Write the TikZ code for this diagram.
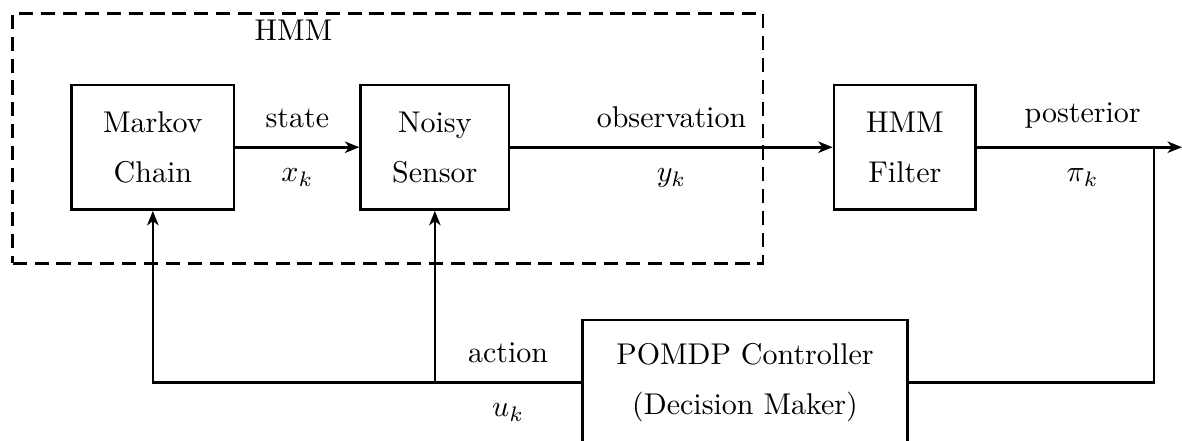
\documentclass[tikz,border=0pt]{standalone}
\usetikzlibrary{arrows.meta,calc}
\begin{document}
\begin{tikzpicture}[x=0.33333pt,y=-0.33333pt,
  every node/.style={font=\fontsize{10}{12}\selectfont},
  blk/.style={draw, line width=0.9pt, minimum height=41.55pt, inner xsep=0pt, inner ysep=0pt, align=center},
  conn/.style={line width=0.9pt},
  arr/.style={conn, -{Stealth[length=4.8pt,width=3.8pt,inset=1.4pt]}},
  labup/.style={inner sep=0pt, anchor=south, yshift=6.2pt},
  labdn/.style={inner sep=0pt, anchor=north, yshift=-7pt},
  hmmbox/.style={draw, line width=0.9pt, dash pattern=on 4.7pt off 2.6pt, inner sep=0pt}
]
\useasboundingbox (0,0) rectangle (1182,440);

% HMM frame
\node[hmmbox, minimum width=250.1pt, minimum height=83.33pt] (hmm) at (387.85,138.3) {};
\node[anchor=base, inner sep=0pt] (hmmlab) at (293.5,40) {HMM};

% blocks
\node[blk, minimum width=54.1pt] (mc) at (152.85,147.2) {Markov\\[4.7pt]Chain};
\node[blk, minimum width=49.43pt] (ns) at (434.85,147.2) {Noisy\\[4.7pt]Sensor};
\node[blk, minimum width=47.23pt] (hf) at (904.85,147.2) {HMM\\[4.7pt]Filter};
\node[blk, minimum width=108.2pt] (pc) at (745,382.3) {POMDP Controller\\[4.7pt](Decision Maker)};

% forward path
\draw[arr] (mc.east) -- (ns.west);
\coordinate (m1) at ($(mc.east)!0.5!(ns.west)$);
\node[labup] (l1) at (m1) {state};
\node[labdn] (l1b) at (m1) {$x_k$};

\draw[arr] (ns.east) -- (hf.west);
\coordinate (m2) at ($(ns.east)!0.5!(hf.west)$);
\node[labup] (l2) at (m2) {observation};
\node[labdn] (l2b) at (m2) {$y_k$};

\coordinate (outend) at (1182,147.2);
\draw[arr] (hf.east) -- (outend);
\coordinate (m3) at (1082.6,147.2);
\node[labup] (l3) at (m3) {posterior};
\node[labdn] (l3b) at (m3) {$\pi_k$};

% feedback
\coordinate (tap) at (1154,147.2);
\draw[conn] (tap) |- (pc.east);
\draw[arr] (pc.west) -| (mc.south);
\coordinate (br) at (ns.south |- pc.west);
\draw[arr] (br) -- (ns.south);
\coordinate (m4) at ($(br)!0.5!(pc.west)$);
\node[labup] (l4) at (m4) {action};
\node[labdn] (l4b) at (m4) {$u_k$};
\end{tikzpicture}
\end{document}
